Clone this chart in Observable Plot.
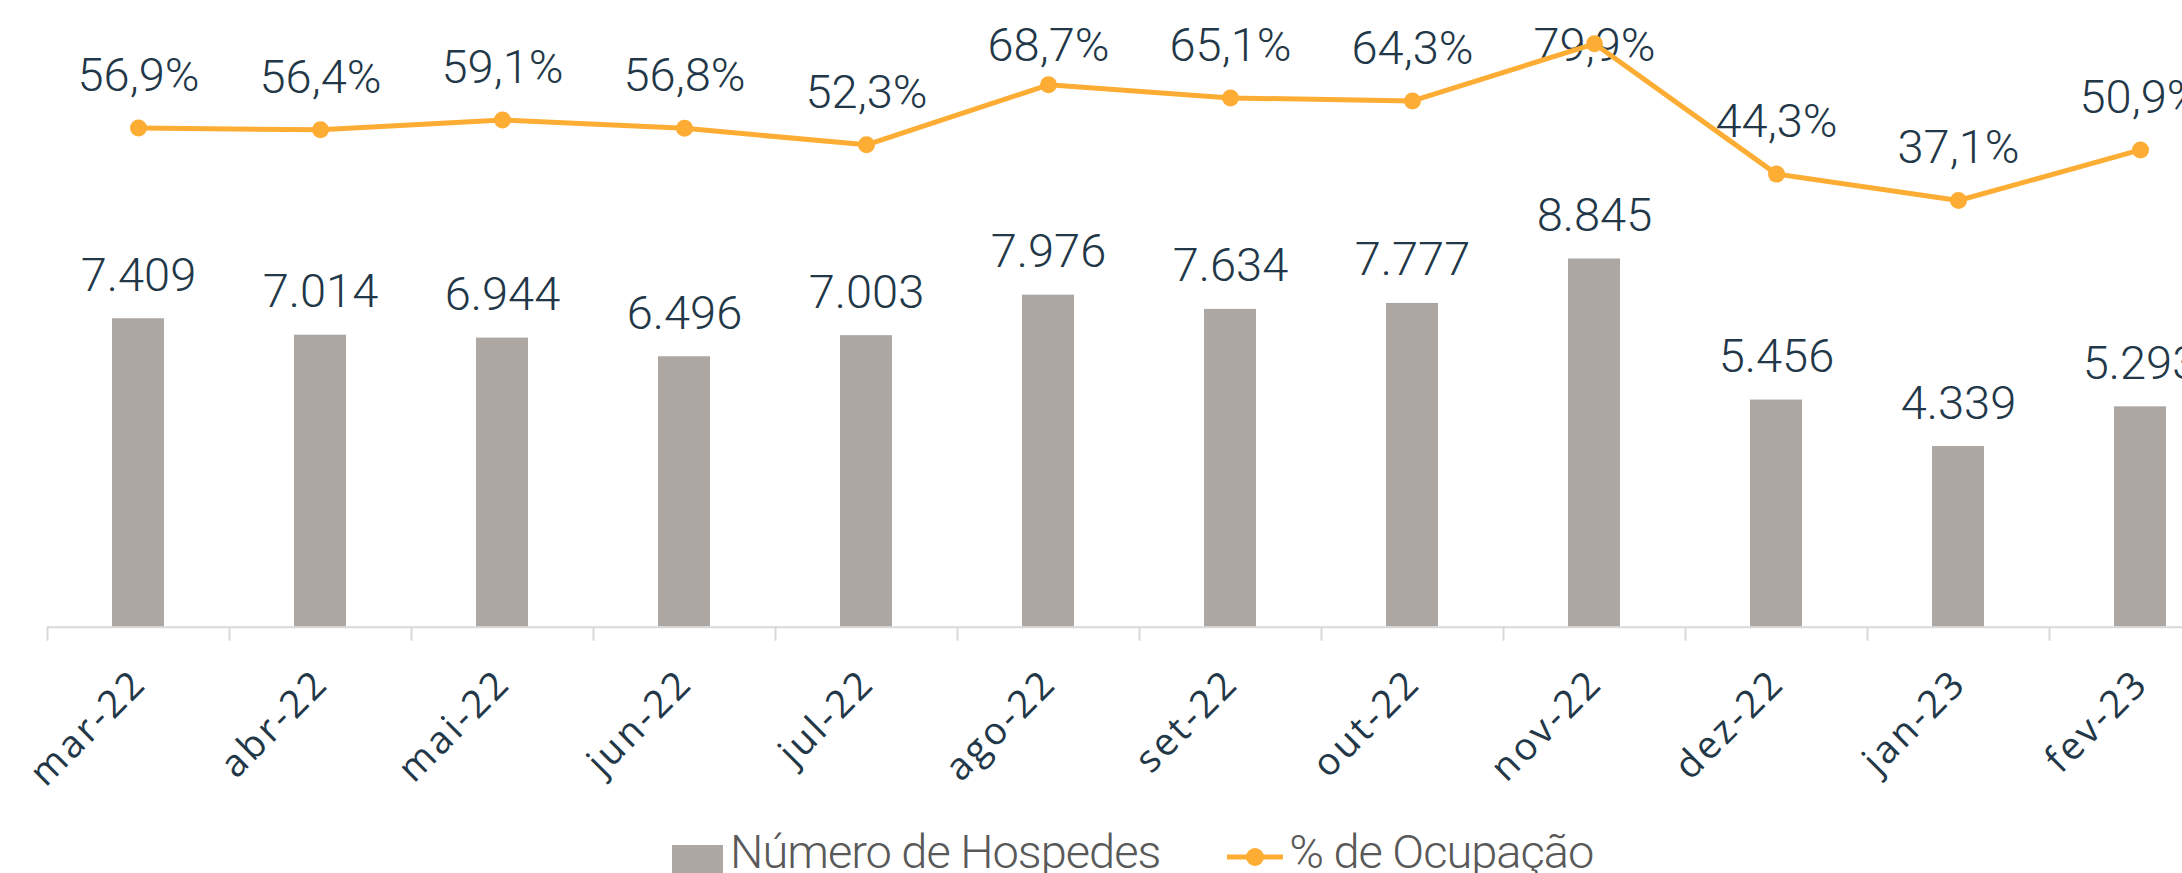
<!DOCTYPE html>
<html>
<head>
<meta charset="utf-8">
<script src="https://cdn.jsdelivr.net/npm/d3@7"></script>
<script src="https://cdn.jsdelivr.net/npm/@observablehq/plot@0.6"></script>
<style>
  html, body { margin: 0; padding: 0; background: #fff; overflow: hidden; }
  #wrap { position: relative; width: 2182px; height: 873px; overflow: hidden; background: #fff; }
  #wrap > svg { position: absolute; left: 0; top: 0; max-width: none !important; }
  #legend { position: absolute; left: 672px; top: 828px; display: flex; align-items: flex-start;
            font-family: Roboto, "Noto Sans", sans-serif; font-weight: 300; font-size: 47px;
            line-height: 47px; color: #595959; letter-spacing: -1px; white-space: nowrap; }
  #legend .sw { width: 51px; height: 51px; background: #aca7a2; margin-top: 17px; margin-right: 7px; }
  #legend .ln { margin-left: 67px; margin-right: 6px; margin-top: 19px; }
</style>
</head>
<body>
<div id="wrap"></div>
<script>
// ---- data ----
const months = ["mar-22","abr-22","mai-22","jun-22","jul-22","ago-22","set-22","out-22","nov-22","dez-22","jan-23","fev-23"];
const hospedes = [7409, 7014, 6944, 6496, 7003, 7976, 7634, 7777, 8845, 5456, 4339, 5293];
const ocupacao = [56.9, 56.4, 59.1, 56.8, 52.3, 68.7, 65.1, 64.3, 79.9, 44.3, 37.1, 50.9];
const seriesNames = ["Número de Hospedes", "% de Ocupação"];

// ---- styles ----
const BAR = "#aca7a2", LINE = "#fdad33", LABEL = "#223747", AXIS = "#d9d9d9";
const FONT = "Roboto, 'Noto Sans', sans-serif";
const W = 2240, H = 810;
const baseY = 626.7;
const labelCeil = 65.2; // labels of higher points are clamped (as in the original)

const data = months.map((m, i) => ({i, month: m, hosp: hospedes[i], pct: ocupacao[i]}));
const ptBR = d3.formatLocale({decimal: ",", thousands: ".", grouping: [3], currency: ["R$", ""]});
const fmtN = ptBR.format(",d");
const fmtP = v => v.toFixed(1).replace(".", ",") + "%";
const xDomain = [-0.5, months.length - 0.5];
const boundaries = d3.range(months.length + 1).map(i => i - 0.5);
const svgStyle = {background: "transparent", overflow: "visible", maxWidth: "none"};

const bars = Plot.plot({
  width: W, height: H,
  marginLeft: 47, marginRight: 9, marginTop: 0, marginBottom: H - baseY,
  x: {type: "linear", domain: xDomain},
  y: {domain: [0, 15054], axis: null},
  style: svgStyle,
  marks: [
    Plot.rectY(data, {x1: d => d.i - 0.5, x2: d => d.i + 0.5, y: "hosp", insetLeft: 65, insetRight: 65, fill: BAR}),
    Plot.ruleY([0], {stroke: AXIS, strokeWidth: 2}),
    Plot.axisX(boundaries, {tickSize: 14, tickFormat: () => "", stroke: AXIS, strokeWidth: 2, label: null}),
    Plot.text(data, {x: "i", y: "hosp", text: d => fmtN(d.hosp), dy: -28, lineAnchor: "bottom",
      fontSize: 47, fontWeight: 300, fontFamily: FONT, fill: LABEL}),
    Plot.text(data, {x: "i", frameAnchor: "bottom", text: "month", rotate: -45, textAnchor: "end",
      lineAnchor: "bottom", dx: 10, dy: 58, fontSize: 38, fontFamily: "'Open Sans', sans-serif",
      fill: LABEL})
  ]
});

// slightly wider letter spacing on the month labels, as in the original
bars.querySelectorAll("text").forEach(t => {
  if (months.includes(t.textContent)) t.style.letterSpacing = "3px";
});

const line = Plot.plot({
  width: W, height: H,
  marginLeft: 47, marginRight: 9, marginTop: 0, marginBottom: H - baseY,
  x: {type: "linear", domain: xDomain, axis: null},
  y: {domain: [0, 100], range: [335.8, -30.3], axis: null},
  style: svgStyle,
  marks: [
    Plot.text(data, {x: "i", y: d => Math.min(d.pct, labelCeil), text: d => fmtP(d.pct), dy: -37,
      lineAnchor: "bottom", fontSize: 47, fontWeight: 300, fontFamily: FONT, fill: LABEL}),
    Plot.line(data, {x: "i", y: "pct", stroke: LINE, strokeWidth: 5}),
    Plot.dot(data, {x: "i", y: "pct", r: 8.5, fill: LINE, stroke: "none"})
  ]
});

const wrap = document.getElementById("wrap");
wrap.appendChild(bars);
wrap.appendChild(line);

const legend = document.createElement("div");
legend.id = "legend";
legend.innerHTML = `<div class="sw"></div><span>${seriesNames[0]}</span>
  <svg class="ln" width="56" height="20"><line x1="0" x2="56" y1="10" y2="10" stroke="${LINE}" stroke-width="5"/><circle cx="28" cy="10" r="9" fill="${LINE}"/></svg><span>${seriesNames[1]}</span>`;
wrap.appendChild(legend);
</script>
</body>
</html>
